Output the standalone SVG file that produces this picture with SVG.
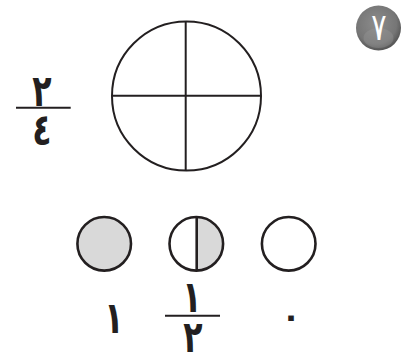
<svg xmlns="http://www.w3.org/2000/svg" width="410" height="354" viewBox="0 0 410 354">
<style>
.ln{stroke:#231f20;fill:none}
.dg{font-family:"DejaVu Sans",sans-serif;font-size:44px;font-weight:bold;fill:#231f20;text-anchor:middle}
</style>
<defs>
<radialGradient id="bg" cx="0.45" cy="0.4" r="0.6">
<stop offset="0" stop-color="#8c8c8c"/>
<stop offset="0.75" stop-color="#767676"/>
<stop offset="1" stop-color="#555555"/>
</radialGradient>
</defs>
<rect width="410" height="354" fill="#ffffff"/>
<g id="badge">
<circle cx="378.5" cy="28" r="22.5" fill="url(#bg)"/>
<ellipse cx="378.5" cy="38" rx="15" ry="10" fill="#9a9a9a" opacity="0.35"/>
<text transform="translate(379,40) scale(0.75,1)" font-family="DejaVu Sans,sans-serif" font-size="38" fill="#ffffff" text-anchor="middle">٧</text>
</g>
<g id="big-circle">
<circle class="ln" cx="186.5" cy="96" r="74.5" stroke-width="2"/>
<line class="ln" x1="112" y1="95.7" x2="261" y2="95.7" stroke-width="2"/>
<line class="ln" x1="185.7" y1="21.5" x2="185.7" y2="170.5" stroke-width="2"/>
</g>
<g id="frac-2-4">
<text class="dg" transform="translate(42,106) scale(0.72,1)">٢</text>
<line class="ln" x1="16" y1="107.7" x2="70.7" y2="107.7" stroke-width="2"/>
<text class="dg" transform="translate(42,145) scale(0.72,1)">٤</text>
</g>
<g id="circle-full">
<circle cx="104.2" cy="243.8" r="26.8" fill="#d9d9d9" stroke="#231f20" stroke-width="2.6"/>
</g>
<g id="circle-half">
<path d="M196.5 217 A26.8 26.8 0 0 1 196.5 270.6 Z" fill="#d9d9d9"/>
<circle class="ln" cx="196.3" cy="243.8" r="26.8" stroke-width="2.6"/>
<line class="ln" x1="196.7" y1="217" x2="196.7" y2="270.6" stroke-width="2.6"/>
</g>
<g id="circle-empty">
<circle class="ln" cx="288.7" cy="243.8" r="26.8" stroke-width="2.6"/>
</g>
<g id="labels">
<text class="dg" transform="translate(114,333) scale(0.72,1)">١</text>
<text class="dg" transform="translate(192,312) scale(0.72,1)">١</text>
<line class="ln" x1="165" y1="315.7" x2="220" y2="315.7" stroke-width="2"/>
<text class="dg" transform="translate(193,352) scale(0.72,1)">٢</text>
<text x="291" y="327" style="font-family:'DejaVu Sans',sans-serif;font-size:32px;font-weight:bold;fill:#231f20;text-anchor:middle">٠</text>
</g>
</svg>
